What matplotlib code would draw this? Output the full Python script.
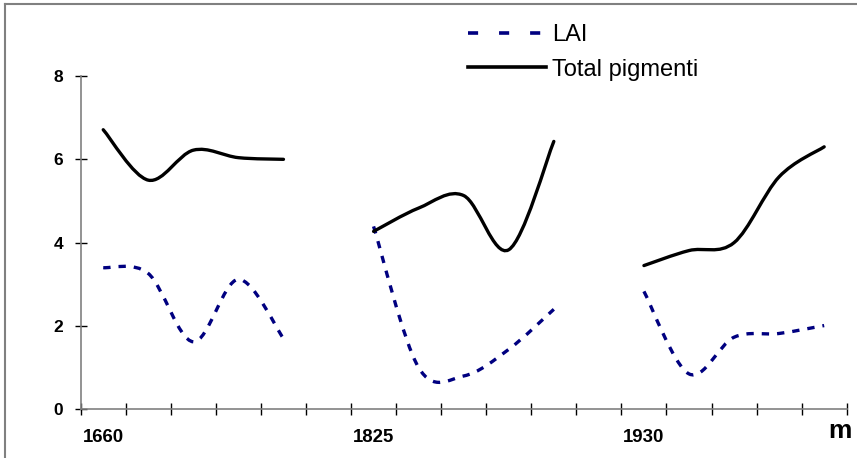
import numpy as np
import matplotlib
matplotlib.use("Agg")
import matplotlib.pyplot as plt
from matplotlib.path import Path
from matplotlib.patches import PathPatch
from matplotlib.lines import Line2D

# categories (only every 6th label is shown, as in the original)
categories = ['1660', '', '', '', '', '', '1825', '', '', '', '', '', '1930', '', '', '', '']
lai = [3.40, 3.26, 1.62, 3.12, 1.70, np.nan,
       4.39, 1.00, 0.80, 1.44, 2.40, np.nan,
       2.83, 0.85, 1.73, 1.82, 2.01]
total_pigmenti = [6.71, 5.50, 6.22, 6.04, 6.00, np.nan,
                  4.27, 4.83, 5.13, 3.83, 6.43, np.nan,
                  3.45, 3.81, 4.00, 5.58, 6.30]
y_ticks = [0, 2, 4, 6, 8]

navy = '#000080'


def smooth_path(xs, ys):
    # courbe lissée type Excel : Bezier cubique, un morceau par segment continu
    verts, codes = [], []
    xs = np.asarray(xs, float)
    ys = np.asarray(ys, float)
    ok = ~np.isnan(ys)
    runs, cur = [], []
    for i in range(len(ys)):
        if ok[i]:
            cur.append(i)
        elif cur:
            runs.append(cur)
            cur = []
    if cur:
        runs.append(cur)
    for run in runs:
        px, py = xs[run], ys[run]
        n = len(px)
        verts.append((px[0], py[0]))
        codes.append(Path.MOVETO)
        for k in range(n - 1):
            k0 = max(k - 1, 0)
            k3 = min(k + 2, n - 1)
            c1 = (px[k] + (px[k + 1] - px[k0]) / 6, py[k] + (py[k + 1] - py[k0]) / 6)
            c2 = (px[k + 1] - (px[k3] - px[k]) / 6, py[k + 1] - (py[k3] - py[k]) / 6)
            verts += [c1, c2, (px[k + 1], py[k + 1])]
            codes += [Path.CURVE4] * 3
    return Path(verts, codes)


plt.rcParams['font.family'] = ['Liberation Sans', 'DejaVu Sans']

fig = plt.figure(figsize=(8.57, 4.58), dpi=100)
ax = fig.add_axes([80.7 / 857, 1 - 409.3 / 458, 766 / 857, 333.3 / 458])

x = np.arange(len(categories))
ax.add_patch(PathPatch(smooth_path(x, lai), fill=False, edgecolor=navy,
                       lw=2.4, linestyle=(0, (2.2, 2.4)), capstyle='butt'))
ax.add_patch(PathPatch(smooth_path(x, total_pigmenti), fill=False, edgecolor='black',
                       lw=2.4, capstyle='round'))

ax.set_xlim(-0.5, len(categories) - 0.5)
ax.set_ylim(0, 8)

# graduations entre les catégories, étiquettes au centre
ax.set_xticks(np.arange(len(categories) + 1) - 0.5)
ax.set_xticklabels([])
lab = [i for i, c in enumerate(categories) if c]
ax.set_xticks(lab, minor=True)
ax.set_xticklabels([categories[i] for i in lab], minor=True,
                   fontsize=13.4, fontweight='bold')
ax.tick_params(axis='x', which='major', direction='inout', length=9, width=1, color='black')
ax.tick_params(axis='x', which='minor', length=0, pad=14)

ax.set_yticks(y_ticks)
ax.set_yticklabels([str(v) for v in y_ticks], fontsize=12.5, fontweight='bold')
ax.tick_params(axis='y', direction='inout', length=9, width=1, color='black', pad=8)

for s in ['top', 'right']:
    ax.spines[s].set_visible(False)
for s in ['left', 'bottom']:
    ax.spines[s].set_color('#808080')
    ax.spines[s].set_linewidth(1.2)

fig.text(840 / 857, 1 - 431 / 458, 'm', fontsize=19, fontweight='bold',
         ha='center', va='center')

handles = [Line2D([], [], color=navy, lw=2.6, linestyle=(0, (2.8, 5.8))),
           Line2D([], [], color='black', lw=2.6)]
fig.legend(handles, ['LAI', 'Total pigmenti'], loc='upper left',
           bbox_to_anchor=(468 / 857, 1 - 24 / 458), frameon=False, fontsize=17,
           handlelength=3.3, handletextpad=0.25, labelspacing=0.53, borderpad=0,
           borderaxespad=0)

# cadre extérieur
fig.add_artist(Line2D([5 / 857, 5 / 857], [0, 1 - 4 / 458], color='#808080', lw=1.5))
fig.add_artist(Line2D([5 / 857, 1], [1 - 4 / 458, 1 - 4 / 458], color='#808080', lw=1.5))

fig.savefig('out.png', dpi=100)
